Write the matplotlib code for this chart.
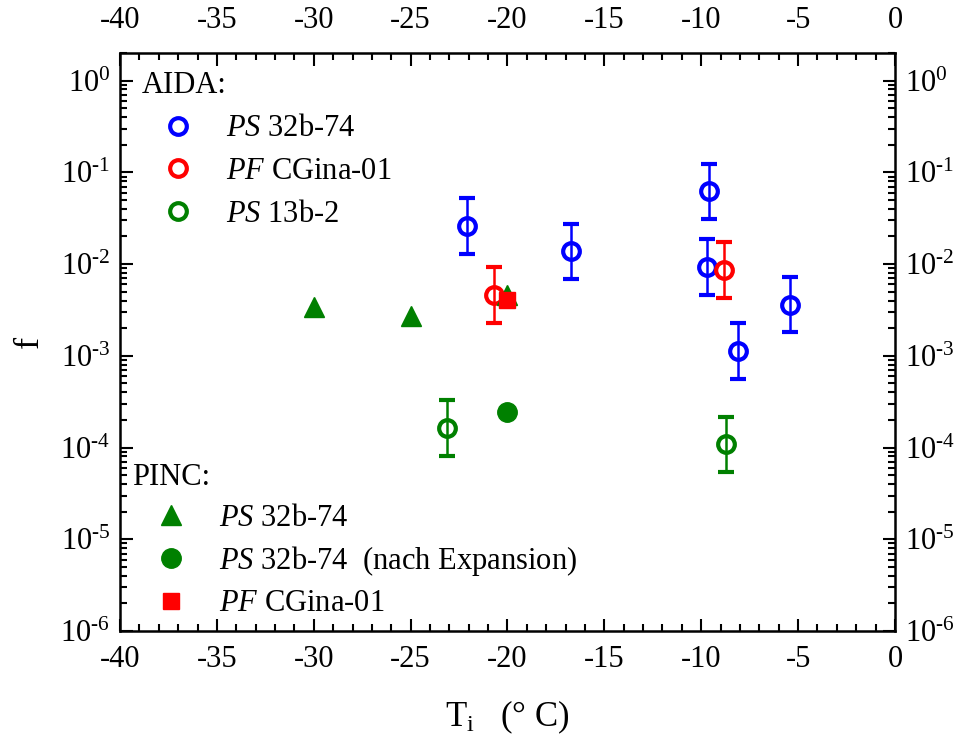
import numpy as np
import matplotlib
matplotlib.use('Agg')
import matplotlib.pyplot as plt
from matplotlib.lines import Line2D
from matplotlib.ticker import MultipleLocator, LogLocator, NullFormatter

plt.rcParams['font.family'] = 'Liberation Serif'
plt.rcParams['mathtext.fontset'] = 'custom'
plt.rcParams['mathtext.rm'] = 'Liberation Serif'
plt.rcParams['mathtext.it'] = 'Liberation Serif:italic'

# AIDA data (T in degC, f); error bars are a factor 2 up and down
aida_ps32_T = [-22.1, -16.7, -9.6, -9.7, -8.1, -5.4]
aida_ps32_f = [0.026, 0.0138, 0.062, 0.0093, 0.00113, 0.0036]
aida_pf_T = [-20.7, -8.8]
aida_pf_f = [0.0046, 0.0086]
aida_ps13_T = [-23.1, -8.7]
aida_ps13_f = [0.000163, 0.000109]
err_factor = 2.0

# PINC data
pinc_ps32_T = [-30.0, -25.0, -20.0]
pinc_ps32_f = [0.0034, 0.0027, 0.0046]
pinc_exp_T = [-20.0]
pinc_exp_f = [0.000242]
pinc_pf_T = [-20.0]
pinc_pf_f = [0.0041]

xticks = list(range(-40, 1, 5))
yexp = list(range(-6, 1))

fig, ax = plt.subplots(figsize=(9.57, 7.43), dpi=100)
fig.subplots_adjust(left=0.1254, right=0.9352, top=0.9287, bottom=0.1507)

def aida(T, f, color):
    f = np.array(f)
    yerr = [f - f / err_factor, f * err_factor - f]
    ax.errorbar(T, f, yerr=yerr, fmt='o', ms=12, mfc='none', mec=color, mew=3,
                ecolor=color, elinewidth=1.8, capsize=6, capthick=1.8, zorder=3)

aida(aida_ps32_T, aida_ps32_f, 'blue')
aida(aida_pf_T, aida_pf_f, 'red')
aida(aida_ps13_T, aida_ps13_f, 'green')

ax.plot(pinc_ps32_T, pinc_ps32_f, '^', color='green', ms=14, ls='none', zorder=4)
ax.plot(pinc_exp_T, pinc_exp_f, 'o', color='green', ms=14, ls='none', zorder=4)
ax.plot(pinc_pf_T, pinc_pf_f, 's', color='red', ms=12, ls='none', zorder=5)

ax.set_yscale('log')
ax.set_xlim(-40, 0)
ax.set_ylim(1e-6, 2)
ax.xaxis.set_minor_locator(MultipleLocator(1))
ax.yaxis.set_minor_locator(LogLocator(base=10, subs=np.arange(2, 10), numticks=20))
ax.yaxis.set_minor_formatter(NullFormatter())
ax.set_xticks(xticks)
ax.set_xticklabels([str(v) for v in xticks])
ax.set_yticks([10.0 ** e for e in yexp])
ax.set_yticklabels([r'$10^{\text{%d}}$' % e for e in yexp])

ax.tick_params(which='both', direction='in', top=True, right=True,
               labelright=True, width=1.5, labelsize=22)
ax.tick_params(which='major', length=9)
ax.tick_params(which='minor', length=5)
ax.tick_params(axis='y', pad=7)
ax.tick_params(axis='x', pad=10)
for s in ax.spines.values():
    s.set_linewidth(1.8)

# top axis labels
top = ax.secondary_xaxis('top')
top.set_xticks(xticks)
top.set_xticklabels([str(v) for v in xticks])
top.tick_params(which='both', direction='in', length=0, labelsize=22, pad=13)
top.spines['top'].set_visible(False)

ax.set_ylabel('f', fontsize=26, labelpad=10)
ax.set_xlabel(r'$\mathrm{T_{i}}$   (° C)', fontsize=25, labelpad=18)

# legends
h1 = [Line2D([], [], marker='o', ls='none', ms=12, mfc='none', mec=c, mew=3)
      for c in ['blue', 'red', 'green']]
l1 = [r'$\mathit{PS}$ 32b-74', r'$\mathit{PF}$ CGina-01', r'$\mathit{PS}$ 13b-2']
leg1 = ax.legend(h1, l1, title='AIDA:', loc='upper left',
                 bbox_to_anchor=(0.028, 0.968), frameon=False,
                 fontsize=22, title_fontsize=22, alignment='left',
                 handlelength=2.4, handletextpad=0.36, labelspacing=0.45,
                 borderpad=0, borderaxespad=0)
ax.add_artist(leg1)

h2 = [Line2D([], [], marker='^', ls='none', ms=14, color='green'),
      Line2D([], [], marker='o', ls='none', ms=14, color='green'),
      Line2D([], [], marker='s', ls='none', ms=12, color='red')]
l2 = [r'$\mathit{PS}$ 32b-74', r'$\mathit{PS}$ 32b-74  (nach Expansion)', r'$\mathit{PF}$ CGina-01']
ax.legend(h2, l2, title='PINC:', loc='lower left',
          bbox_to_anchor=(0.016, 0.022), frameon=False,
          fontsize=22, title_fontsize=22, alignment='left',
          handlelength=2.55, handletextpad=0.3, labelspacing=0.37,
          borderpad=0, borderaxespad=0)

fig.savefig('out.png', dpi=100)
